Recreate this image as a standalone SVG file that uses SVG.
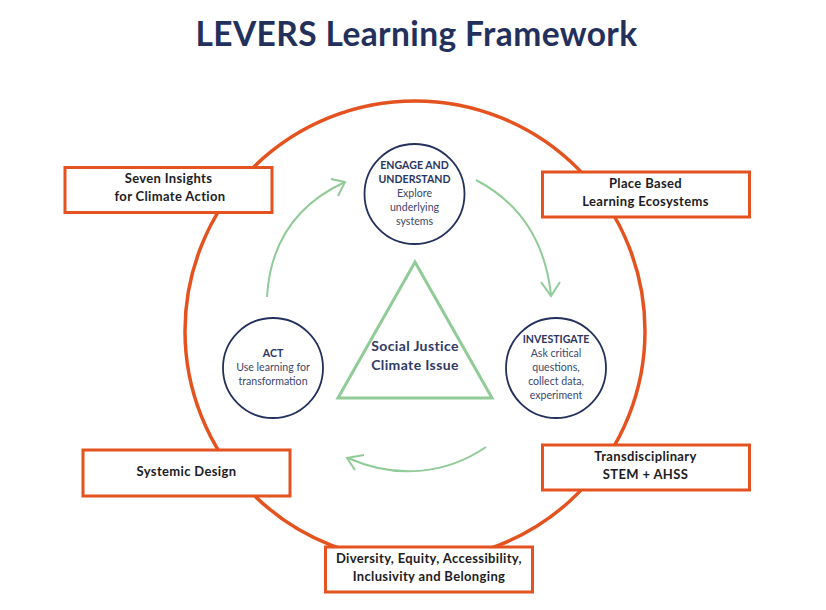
<svg xmlns="http://www.w3.org/2000/svg" width="826" height="610" viewBox="0 0 826 610">
<style>
text{font-family:"Lato","Open Sans","Liberation Sans",sans-serif;text-anchor:middle}
.t{font-size:33.5px;font-weight:700;fill:#23305c;letter-spacing:.4px}
.box{fill:#fff;stroke:#e4531f;stroke-width:3}
.bl{font-size:13px;font-weight:700;fill:#1c1c24;letter-spacing:.35px}
.c{fill:#fff;stroke:#23305c;stroke-width:1.8}
.h{font-size:10.6px;font-weight:700;fill:#2a3560}
.s{font-size:10.6px;fill:#3c466c}
.g{fill:none;stroke:#90cb98;stroke-width:2}
.m{font-size:14px;font-weight:700;fill:#2f3a66;letter-spacing:.38px}
</style>
<rect width="826" height="610" fill="#fff"/>
<text class="t" x="416.500" y="46">LEVERS Learning Framework</text>
<circle id="ring" cx="415" cy="331" r="230" fill="none" stroke="#e4531f" stroke-width="3.500"/>
<g id="connectors">
<path class="g" d="M476 180C520 203 545 240 551 295"/>
<path class="g" d="M541 282L551 296L560 282"/>
<path class="g" d="M486 447C445 475 395 479 348 458"/>
<path class="g" d="M364 455L347 458L355 470"/>
<path class="g" d="M267 297C270 245 295 205 345 182"/>
<path class="g" d="M331 179L345 182L338 196"/>
</g>
<g id="triangle">
<path d="M415 262L492 398H338Z" fill="#fff" stroke="#90cb98" stroke-width="3"/>
<text class="m" x="415" y="351">Social Justice</text>
<text class="m" x="415" y="370">Climate Issue</text>
</g>
<g id="engage">
<circle class="c" cx="414.500" cy="194" r="50"/>
<text class="h" x="414.500" y="169">ENGAGE AND</text>
<text class="h" x="414.500" y="183">UNDERSTAND</text>
<text class="s" x="414.500" y="197">Explore</text>
<text class="s" x="414.500" y="211">underlying</text>
<text class="s" x="414.500" y="225">systems</text>
</g>
<g id="investigate">
<circle class="c" cx="556" cy="368" r="50"/>
<text class="h" x="556" y="343">INVESTIGATE</text>
<text class="s" x="556" y="357">Ask critical</text>
<text class="s" x="556" y="371">questions,</text>
<text class="s" x="556" y="385">collect data,</text>
<text class="s" x="556" y="399">experiment</text>
</g>
<g id="act">
<circle class="c" cx="273" cy="368" r="50"/>
<text class="h" x="273" y="357">ACT</text>
<text class="s" x="273" y="371">Use learning for</text>
<text class="s" x="273" y="385">transformation</text>
</g>
<g id="seven">
<rect class="box" x="65" y="167.500" width="207" height="45"/>
<text class="bl" x="168.500" y="183">Seven Insights</text>
<text class="bl" x="170" y="201">for Climate Action</text>
</g>
<g id="place">
<rect class="box" x="542.500" y="172" width="207" height="45"/>
<text class="bl" x="645.500" y="188">Place Based</text>
<text class="bl" x="645.500" y="206">Learning Ecosystems</text>
</g>
<g id="systemic">
<rect class="box" x="83" y="450" width="207" height="46"/>
<text class="bl" x="186.500" y="476">Systemic Design</text>
</g>
<g id="trans">
<rect class="box" x="542.500" y="445" width="207" height="45"/>
<text class="bl" x="645.500" y="461">Transdisciplinary</text>
<text class="bl" x="645.500" y="479">STEM + AHSS</text>
</g>
<g id="diversity">
<rect class="box" x="325.500" y="547" width="207" height="45"/>
<text class="bl" x="429" y="563">Diversity, Equity, Accessibility,</text>
<text class="bl" x="429" y="581">Inclusivity and Belonging</text>
</g>
</svg>
